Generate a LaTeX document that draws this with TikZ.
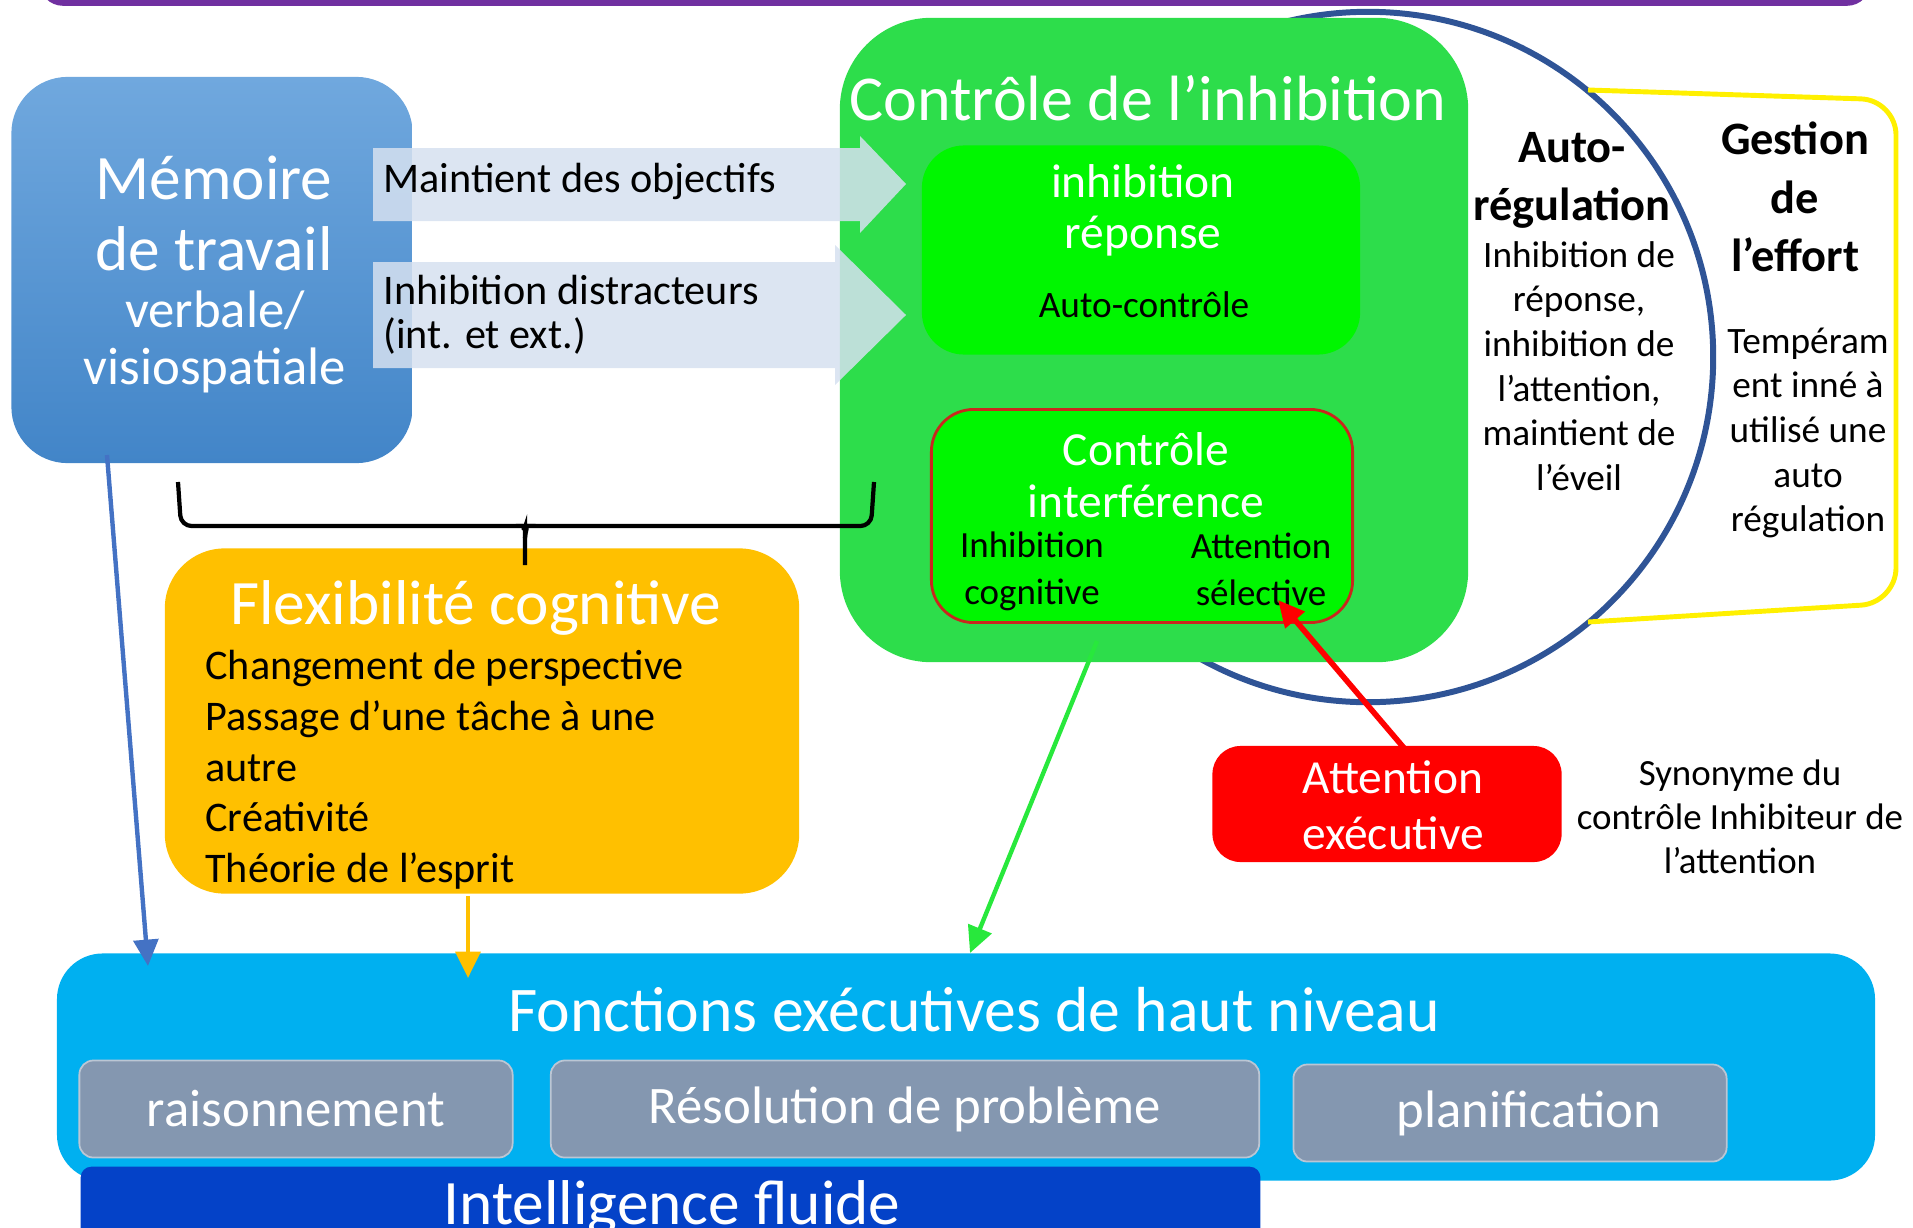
\documentclass[tikz,border=0pt]{standalone}
\usepackage{fontspec}
\setmainfont{Carlito}
\usetikzlibrary{arrows.meta,positioning}
\definecolor{memtop}{RGB}{112,168,222}
\definecolor{membot}{RGB}{66,133,200}
\definecolor{inhgreen}{RGB}{45,221,75}
\definecolor{brightgreen}{RGB}{0,246,0}
\definecolor{interfred}{RGB}{200,40,30}
\definecolor{flexorange}{RGB}{255,192,0}
\definecolor{fehblue}{RGB}{0,176,240}
\definecolor{taskgrey}{RGB}{132,151,176}
\definecolor{fluidblue}{RGB}{4,66,200}
\definecolor{circblue}{RGB}{47,84,150}
\definecolor{effortyellow}{RGB}{255,240,0}
\definecolor{arrowpale}{RGB}{214,225,240}
\definecolor{attred}{RGB}{255,0,0}
\definecolor{toppurple}{RGB}{112,48,160}
\definecolor{linkblue}{RGB}{68,114,196}
\definecolor{linkgreen}{RGB}{40,232,60}
\newcommand{\setfs}[2]{\fontsize{#1}{#2}\selectfont}

\begin{document}
\begin{tikzpicture}[x=0.01cm,y=-0.01cm,>=Stealth,
    base box/.style={rounded corners=#1,inner sep=0pt},
    white text/.style={text=white,align=center},
    black text/.style={text=black,align=center},
    task box/.style={base box=4pt,fill=taskgrey,draw=white!45!taskgrey,line width=0.5pt,
      minimum height=0.97cm,text=white,font=\setfs{15}{17}},
    link/.style={->,line width=1.25pt,>={Triangle[length=7.5pt,width=7pt]}},
    brace line/.style={line width=1.2pt,rounded corners=3pt}]
  \useasboundingbox (0,0) rectangle (1913,1227);

  % bord du cadre du dessus
  \draw[toppurple,line width=1.6pt,rounded corners=6pt] (42,-20) -- (42,3) -- (1868,3) -- (1868,-20);

  % auto-regulation et gestion de l'effort
  \node (selfreg) [circle,draw=circblue,line width=1.7pt,minimum size=6.9cm,inner sep=0pt] at (1368,357) {};
  \draw[effortyellow,line width=1.4pt,rounded corners=10pt] (1588,90) -- (1896,100) -- (1896,603) -- (1588,622);

  % controle de l'inhibition
  \node (inh) [base box=26pt,fill=inhgreen,minimum width=6.28cm,minimum height=6.44cm] at (1154,340) {};
  \node (inhtitle) [white text,font=\setfs{18.2}{20}] at (1148,98) {Contrôle de l’inhibition};
  \node (resp) [base box=12pt,fill=brightgreen,minimum width=4.38cm,minimum height=2.09cm] at (1141,250) {};
  \node (resptitle) [white text,font=\setfs{13.5}{14.5}] at (1143,210) {inhibition\\réponse};
  \node (autoctl) [font=\setfs{10.6}{12}] at (1144,305) {Auto-contrôle};
  \node (interf) [base box=12pt,fill=brightgreen,draw=interfred,line width=0.8pt,
    minimum width=4.21cm,minimum height=2.13cm] at (1142,516) {};
  \node (interftitle) [white text,font=\setfs{13.5}{14.7}] at (1146,475) {Contrôle\\interférence};
  \node (inhcog) [black text,font=\setfs{10.5}{13.3}] at (1032,571) {Inhibition\\cognitive};
  \node (attsel) [black text,font=\setfs{10.5}{13.3}] at (1261,569) {Attention\\sélective};

  \node (autoreg) [black text,font=\bfseries\setfs{13.2}{16.5}] at (1572,180) {Auto-\\régulation};
  \node (autoregtxt) [black text,font=\setfs{10.6}{12.7}] at (1579,366)
    {Inhibition de\\réponse,\\inhibition de\\l’attention,\\maintient de\\l’éveil};
  \node (effort) [black text,font=\bfseries\setfs{13.2}{16.6}] at (1795,197) {Gestion\\de\\l’effort};
  \node (efforttxt) [black text,font=\setfs{10.6}{12.7}] at (1808,433)
    {Tempéram\\ent inné à\\utilisé une\\auto\\régulation};

  % memoire de travail
  \node (mem) [base box=16pt,top color=memtop,bottom color=membot,minimum width=4.01cm,minimum height=3.86cm] at (212,270) {};
  \node (memtitle) [white text,font=\setfs{18}{20.2}] at (214,213) {Mémoire\\de travail};
  \node (memsub) [white text,font=\setfs{15}{16.2}] at (215,342) {verbale/\\visiospatiale};

  % fleches larges
  \fill[arrowpale,opacity=.85] (373,148) -- (860,148) -- (860,136) -- (906,184) -- (860,233) -- (860,221) -- (373,221) -- cycle;
  \fill[arrowpale,opacity=.85] (373,262) -- (835,262) -- (835,245) -- (906,315) -- (835,385) -- (835,368) -- (373,368) -- cycle;
  \node (objectifs) [anchor=west,font=\setfs{12}{13}] at (371,181) {Maintient des objectifs};
  \node (distract) [anchor=west,align=left,font=\setfs{12}{12.6}] at (371,315) {Inhibition distracteurs\\(int. et ext.)};

  % flexibilite
  \node (flex) [base box=17pt,fill=flexorange,minimum width=6.34cm,minimum height=3.45cm] at (482,721) {};
  \node (flextitle) [white text,font=\setfs{18}{20}] at (476,608) {Flexibilité cognitive};
  \node (flexlist) [anchor=west,align=left,font=\setfs{12}{14.4}] at (193,770)
    {Changement de perspective\\Passage d’une tâche à une\\autre\\Créativité\\Théorie de l’esprit};

  % accolade
  \draw[brace line] (178,482) -- (181,526) -- (515,526) to[out=0,in=90] (525,538) -- (525,565);
  \draw[brace line] (874,482) -- (871,526) -- (535,526) to[out=180,in=90] (525,538);

  % attention executive
  \node (attn) [base box=8pt,fill=attred,minimum width=3.49cm,minimum height=1.16cm] at (1387,804) {};
  \node (attntxt) [white text,font=\setfs{13.5}{16}] at (1393,805) {Attention\\exécutive};
  \node (synonyme) [black text,font=\setfs{10.5}{12.5}] at (1740,817) {Synonyme du\\contrôle Inhibiteur de\\l’attention};

  % fonctions executives de haut niveau
  \node (feh) [base box=13pt,fill=fehblue,minimum width=18.17cm,minimum height=2.27cm] at (966,1067) {};
  \node (fehtitle) [white text,font=\setfs{18.1}{20}] at (974,1010) {Fonctions exécutives de haut niveau};
  \node (raison) [task box,minimum width=4.33cm] at (296,1109) {raisonnement};
  \node (resol) [task box,minimum width=7.08cm] at (905,1109) {Résolution de problème};
  \node (planif) [task box,minimum width=4.33cm,text width=4.33cm,align=center] at (1510,1113) {\hspace*{0.38cm}planification};
  \node (fluid) [base box=3pt,fill=fluidblue,minimum width=11.79cm,minimum height=0.8cm,anchor=north west] at (80,1166) {};
  \node (fluidtxt) [anchor=base,text=white,font=\setfs{18}{20}] at (672,1224) {Intelligence fluide};

  % liens
  \coordinate (memfoot) at (107,455);
  \coordinate (fehleft) at (148,966);
  \coordinate (flexfoot) at (468,896);
  \coordinate (fehmid) at (468,978);
  \coordinate (inhfoot) at (1097,641);
  \coordinate (fehtop) at (970,953);
  \coordinate (attntop) at (1404,748);
  \coordinate (selfoot) at (1278,600);
  \draw[link,linkblue] (memfoot) -- (fehleft);
  \draw[link,flexorange] (flexfoot) -- (fehmid);
  \draw[link,linkgreen] (inhfoot) -- (fehtop);
  \draw[link,attred,line width=1.6pt] (attntop) -- (selfoot);
\end{tikzpicture}
\end{document}
